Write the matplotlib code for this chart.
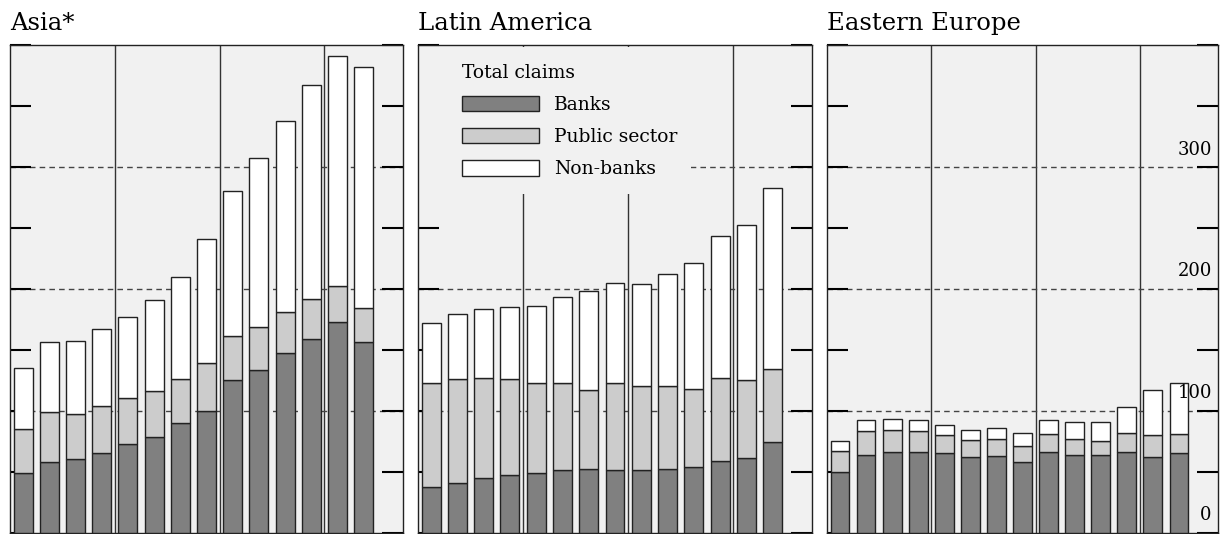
import numpy as np
import matplotlib.pyplot as plt
from matplotlib.patches import Rectangle

# Quarterly stacked claims, 14 quarters per region (15 slots, last one empty)
regions = ['Asia*', 'Latin America', 'Eastern Europe']

# Asia
asia_banks = [49, 58, 60, 65, 73, 78, 90, 100, 125, 133, 147, 159, 173, 156]
asia_public = [36, 41, 37, 39, 37, 38, 36, 39, 36, 36, 34, 33, 29, 28]
asia_nonbanks = [50, 57, 60, 63, 67, 75, 84, 102, 119, 138, 157, 175, 189, 198]

# Latin America
latam_banks = [37, 41, 45, 47, 49, 51, 52, 51, 51, 52, 54, 59, 61, 74]
latam_public = [86, 85, 82, 79, 74, 72, 65, 72, 69, 68, 64, 68, 64, 60]
latam_nonbanks = [49, 53, 56, 59, 63, 70, 81, 82, 84, 92, 103, 116, 127, 149]

# Eastern Europe
eeur_banks = [50, 64, 66, 66, 65, 62, 63, 58, 66, 64, 64, 66, 62, 65]
eeur_public = [17, 19, 18, 17, 15, 14, 14, 13, 15, 13, 11, 16, 18, 16]
eeur_nonbanks = [8, 9, 9, 9, 8, 8, 9, 11, 11, 14, 16, 21, 37, 42]

data = [
    (asia_banks, asia_public, asia_nonbanks),
    (latam_banks, latam_public, latam_nonbanks),
    (eeur_banks, eeur_public, eeur_nonbanks),
]

series_names = ['Banks', 'Public sector', 'Non-banks']
colors = ['#808080', '#cccccc', '#ffffff']
right_labels = [0, 100, 200, 300]

bg = '#f1f1f1'
plt.rcParams['font.family'] = ['DejaVu Serif']

fig = plt.figure(figsize=(12.2, 5.34), dpi=100)
lefts = [10 / 1220, 418 / 1220, 827 / 1220]
widths = [393 / 1220, 394 / 1220, 391 / 1220]
bottom = 1.5 / 534
height = 487.5 / 534

for k, (name, series) in enumerate(zip(regions, data)):
    ax = fig.add_axes([lefts[k], bottom, widths[k], height])
    ax.set_facecolor(bg)
    n = len(series[0])
    x = np.arange(n)
    base = np.zeros(n)
    bars = []
    for vals, col, lab in zip(series, colors, series_names):
        b = ax.bar(x, vals, bottom=base, width=0.72, color=col,
                   edgecolor='#222222', linewidth=1.0, label=lab, zorder=3)
        bars.append(b)
        base += np.array(vals)

    ax.set_xlim(-0.5, 14.5)
    ax.set_ylim(0, 400)

    # year separators and dashed grid
    for xv in [3.5, 7.5, 11.5]:
        ax.axvline(xv, color='#333333', linewidth=1.0, zorder=1)
    for yv in [100, 200, 300]:
        ax.axhline(yv, color='#444444', linewidth=1.0, linestyle=(0, (4, 3)), zorder=1)

    ax.set_xticks([])
    ax.set_yticks(np.arange(0, 401, 50))
    ax.tick_params(axis='y', direction='in', length=15, width=1.5,
                   left=True, right=True, labelleft=False, labelright=False)
    for sp in ax.spines.values():
        sp.set_linewidth(1.0)
        sp.set_color('#222222')

    ax.text(0, 1.02, name, transform=ax.transAxes, ha='left', va='bottom',
            fontsize=17.5)

    if k == 1:
        # blank out the grid behind the legend
        ax.add_patch(Rectangle((0.003, 0.695), 0.69, 0.30,
                               transform=ax.transAxes, facecolor=bg,
                               edgecolor='none', zorder=2))
        leg = ax.legend(handles=bars, loc='upper left', bbox_to_anchor=(0.112, 0.962),
                        frameon=False, title='Total claims', alignment='left',
                        fontsize=13.5, title_fontsize=13.5, handlelength=4.1,
                        handleheight=0.9, labelspacing=0.75, handletextpad=0.8,
                        borderaxespad=0, borderpad=0)
        leg.set_zorder(4)

    if k == 2:
        for v in right_labels:
            ax.annotate(str(v), xy=(1, v), xycoords=('axes fraction', 'data'),
                        xytext=(-4.5, 6), textcoords='offset points',
                        ha='right', va='bottom', fontsize=13, zorder=5)

fig.savefig('out.png', dpi=100, facecolor='white')
